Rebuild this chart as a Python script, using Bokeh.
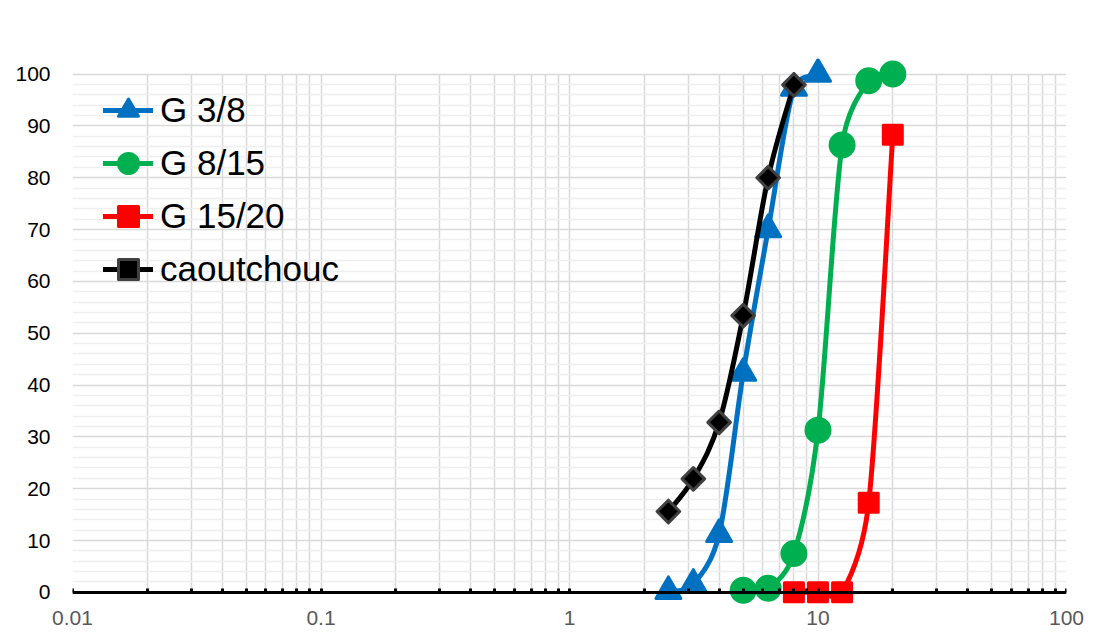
import numpy as np
from bokeh.plotting import figure
from bokeh.models import Range1d, FixedTicker, Legend, LegendItem, ColumnDataSource, LogAxis
from bokeh.embed import file_html
from bokeh.resources import INLINE

# ---- data ----
series_names = ["G 3/8", "G 8/15", "G 15/20", "caoutchouc"]

sieve_g38 = [2.5, 3.15, 4, 5, 6.3, 8, 10]
pass_g38 = [0.2, 1.6, 11.2, 42.3, 70.0, 97.3, 100]

sieve_g815 = [5, 6.3, 8, 10, 12.5, 16, 20]
pass_g815 = [0.4, 0.8, 7.5, 31.3, 86.3, 98.7, 100]

sieve_g1520 = [8, 10, 12.5, 16, 20]
pass_g1520 = [0, 0, 0, 17.3, 88.3]

sieve_caout = [2.5, 3.15, 4, 5, 6.3, 8]
pass_caout = [15.6, 21.9, 32.8, 53.4, 80.0, 97.9]

x_ticks = [0.01, 0.1, 1, 10, 100]
x_tick_labels = ["0.01", "0.1", "1", "10", "100"]
x_minor_mult = [2, 3, 4, 5, 6, 7, 8, 9]
y_ticks = [0, 10, 20, 30, 40, 50, 60, 70, 80, 90, 100]
y_minor_step = 2

FONT = "Liberation Sans"
FRAME_W, FRAME_H = 994, 552
X_LO, X_HI, Y_LO, Y_HI = 0.01, 100, -3.5, 103
PX_DEC = FRAME_W / (np.log10(X_HI) - np.log10(X_LO))
PX_UNIT = FRAME_H / (Y_HI - Y_LO)


def smooth_segments(xs, ys):
    """Excel-like smoothed line: bezier segments computed in screen space,
    tangent along (P[i+1]-P[i-1]), length |P[i+1]-P[i-1]|/6 capped at half
    of the adjacent segment."""
    sx = np.log10(np.asarray(xs, float)) * PX_DEC
    sy = np.asarray(ys, float) * PX_UNIT
    P = np.column_stack([sx, sy])
    n = len(P)

    def ctrl(i, j, sign):
        a = P[i - 1] if i - 1 >= 0 else P[i]
        b = P[i + 1] if i + 1 < n else P[i]
        t = b - a
        L = np.hypot(*t)
        if L == 0:
            return P[i].copy()
        seg = np.hypot(*(P[j] - P[i]))
        d = min(L / 6.0, seg / 2.0)
        return P[i] + sign * t / L * d

    d = dict(x0=[], y0=[], x1=[], y1=[], cx0=[], cy0=[], cx1=[], cy1=[])
    for i in range(n - 1):
        c0 = ctrl(i, i + 1, 1.0)
        c1 = ctrl(i + 1, i, -1.0)
        for key, pt in (("0", P[i]), ("1", P[i + 1])):
            d["x" + key].append(10 ** (pt[0] / PX_DEC))
            d["y" + key].append(pt[1] / PX_UNIT)
        d["cx0"].append(10 ** (c0[0] / PX_DEC)); d["cy0"].append(c0[1] / PX_UNIT)
        d["cx1"].append(10 ** (c1[0] / PX_DEC)); d["cy1"].append(c1[1] / PX_UNIT)
    return ColumnDataSource(d)


p = figure(width=1093, height=635, x_axis_type="log",
           x_range=Range1d(X_LO, X_HI), y_range=Range1d(Y_LO, Y_HI),
           output_backend="svg", toolbar_location=None, title=None,
           min_border_left=72, min_border_right=27,
           min_border_top=58, min_border_bottom=25)
p.outline_line_color = None
p.background_fill_color = "white"
p.border_fill_color = "white"

x_minor = [m * 10.0 ** k for k in range(-2, 2) for m in x_minor_mult]
xticker = FixedTicker(ticks=x_ticks, minor_ticks=x_minor)
y_minor = [v for v in range(0, 101, y_minor_step) if v not in y_ticks]
yticker = FixedTicker(ticks=y_ticks, minor_ticks=y_minor)

# x axis line and inward ticks at y=0 (no labels)
xa = p.xaxis[0]
xa.ticker = xticker
xa.fixed_location = 0
xa.axis_line_color = "black"
xa.axis_line_width = 3
xa.major_tick_in = 4
xa.major_tick_out = 0
xa.minor_tick_in = 4
xa.minor_tick_out = 0
xa.major_tick_line_color = "black"
xa.minor_tick_line_color = "black"
xa.major_tick_line_width = 3
xa.minor_tick_line_width = 3
xa.major_label_text_color = None
xa.major_label_text_font_size = "1px"

# x tick labels below the frame
xb = LogAxis(ticker=xticker)
xb.major_label_overrides = {t: l for t, l in zip(x_ticks, x_tick_labels)}
xb.axis_line_color = None
xb.major_tick_line_color = None
xb.minor_tick_line_color = None
xb.major_tick_in = 0
xb.major_tick_out = 0
xb.minor_tick_in = 0
xb.minor_tick_out = 0
xb.major_label_standoff = 0
xb.major_label_text_font = FONT
xb.major_label_text_font_size = "21px"
xb.major_label_text_color = "#595959"
p.add_layout(xb, "below")

ya = p.yaxis[0]
ya.ticker = yticker
ya.axis_line_color = None
ya.major_tick_line_color = None
ya.minor_tick_line_color = None
ya.major_tick_in = 0
ya.major_tick_out = 0
ya.minor_tick_in = 0
ya.minor_tick_out = 0
ya.major_label_standoff = 22
ya.major_label_text_font = FONT
ya.major_label_text_font_size = "21px"
ya.major_label_text_color = "#000000"

# grids
p.ygrid.ticker = yticker
p.ygrid.grid_line_color = "#d9d9d9"
p.ygrid.grid_line_width = 1.5
p.ygrid.minor_grid_line_color = "#efefef"
p.ygrid.minor_grid_line_width = 1.5

p.xgrid.ticker = xticker
p.xgrid.grid_line_color = "#d9d9d9"
p.xgrid.grid_line_width = 1.5
p.xgrid.minor_grid_line_color = "#d9d9d9"
p.xgrid.minor_grid_line_width = 1.5
try:
    p.xgrid[0].cross_bounds = (0, 100)
except Exception:
    p.xgrid.grid_line_color = None
    p.xgrid.minor_grid_line_color = None
    allx = sorted(set(x_ticks + x_minor))
    p.segment(x0=allx, x1=allx, y0=[0] * len(allx), y1=[100] * len(allx),
              line_color="#d9d9d9", line_width=1.5, level="underlay")

styles = [
    dict(color="#0070C0", marker="triangle", size=25, line_color="#0070C0", angle=0.0),
    dict(color="#00B050", marker="circle", size=24, line_color="#00B050", angle=0.0),
    dict(color="#FF0000", marker="square", size=19, line_color="#FF0000", angle=0.0),
    dict(color="#000000", marker="square", size=16, line_color="#404040", angle=np.pi / 4),
]
data = [(sieve_g38, pass_g38), (sieve_g815, pass_g815),
        (sieve_g1520, pass_g1520), (sieve_caout, pass_caout)]

items = []
for name, (xs, ys), st in zip(series_names, data, styles):
    src = smooth_segments(xs, ys)
    lr = p.bezier(x0="x0", y0="y0", x1="x1", y1="y1", cx0="cx0", cy0="cy0",
                  cx1="cx1", cy1="cy1", source=src, line_color=st["color"],
                  line_width=5, line_cap="round")
    mr = p.scatter(x=xs, y=ys, marker=st["marker"], size=st["size"],
                   fill_color=st["color"], line_color=st["line_color"],
                   line_width=3, line_join="round", angle=st["angle"])
    items.append(LegendItem(label=name, renderers=[lr, mr]))

LEG_ITEM_H, LEG_SPACING = 50, 3
leg_h = len(items) * LEG_ITEM_H + (len(items) - 1) * LEG_SPACING
legend = Legend(items=items, location=(31, FRAME_H - 27 - leg_h))
legend.margin = 0
legend.padding = 0
legend.spacing = LEG_SPACING
legend.glyph_width = 50
legend.glyph_height = LEG_ITEM_H
legend.label_height = LEG_ITEM_H
legend.label_standoff = 7
legend.label_text_font = FONT
legend.label_text_font_size = "35px"
legend.label_text_color = "#000000"
legend.border_line_color = None
legend.background_fill_alpha = 0
p.add_layout(legend)

open("out.html", "w").write(file_html(p, INLINE))
